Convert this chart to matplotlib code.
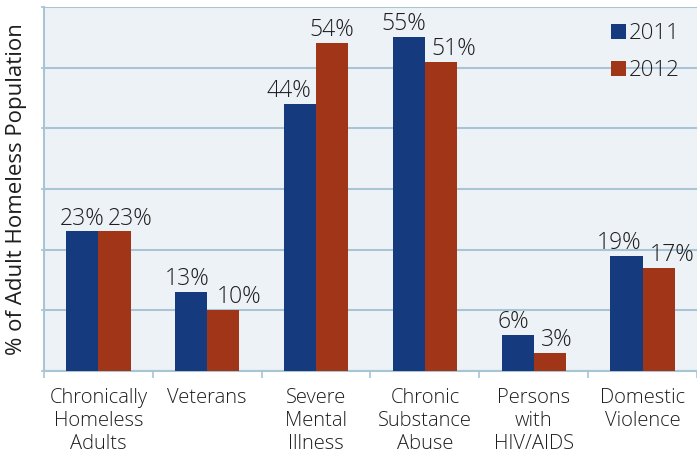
"""
Adult homeless population subgroups, 2011 vs 2012.

Grouped bars with value labels, Excel-style light panel and
horizontal gridlines every 10 percent.
"""

import numpy as np
import matplotlib
matplotlib.use("Agg")
import matplotlib.pyplot as plt


categories = [
    "Chronically\nHomeless\nAdults",
    "Veterans",
    "Severe\nMental\nIllness",
    "Chronic\nSubstance\nAbuse",
    "Persons\nwith\nHIV/AIDS",
    "Domestic\nViolence",
]
values_2011 = [23, 13, 44, 55, 6, 19]
values_2012 = [23, 10, 54, 51, 3, 17]
series_names = ["2011", "2012"]

BLUE = "#163A7E"
RED = "#A13517"
PANEL = "#EDF2F7"
GRID = "#A9C4D4"
TEXT = "#1e1e1e"

BAR_W = 0.295
# label nudges in points (x) so neighbouring labels do not collide
nudge_2011 = [0, -3, -8, -4, -3, -5]
nudge_2012 = [11, 11.5, 0, 9, 5, 10]

plt.rcParams["font.family"] = ["Open Sans", "DejaVu Sans"]
plt.rcParams["font.weight"] = "light"

fig = plt.figure(figsize=(6.97, 4.55), dpi=100)
ax = fig.add_axes([0.0631, 0.1846, 0.9369, 0.80])
ax.set_facecolor(PANEL)

x = np.arange(len(categories))
b1 = ax.bar(x - BAR_W / 2, values_2011, BAR_W, color=BLUE, label=series_names[0], zorder=3)
b2 = ax.bar(x + BAR_W / 2, values_2012, BAR_W, color=RED, label=series_names[1], zorder=3)

for bars, vals, nudges in ((b1, values_2011, nudge_2011), (b2, values_2012, nudge_2012)):
    for rect, v, dx in zip(bars, vals, nudges):
        ax.annotate(f"{v}%", (rect.get_x() + rect.get_width() / 2, v),
                    xytext=(dx, 5), textcoords="offset points",
                    ha="center", va="baseline", fontsize=16.5, color=TEXT)

ax.set_ylim(0, 60)
ax.set_xlim(-0.5, 5.48)
ax.set_yticks(np.arange(0, 61, 10))
ax.set_yticklabels([])
ax.yaxis.grid(True, color=GRID, linewidth=1.5, zorder=0)
ax.tick_params(axis="y", length=2, color=GRID, width=1.2)

ax.set_xticks(x)
ax.set_xticklabels(categories, fontsize=14.5, linespacing=1.22, color=TEXT)
ax.set_xticks(np.arange(-0.5, len(categories), 1.0), minor=True)
ax.tick_params(axis="x", which="major", length=0, pad=12)
ax.tick_params(axis="x", which="minor", length=5, color=GRID, width=1.2)

for side in ("top", "right"):
    ax.spines[side].set_visible(False)
for side in ("left", "bottom"):
    ax.spines[side].set_color(GRID)
    ax.spines[side].set_linewidth(1.5)

ax.set_ylabel("% of Adult Homeless Population", fontsize=16, color=TEXT)
ax.yaxis.set_label_coords(-0.026, 0.5)

leg = ax.legend(loc="upper left", bbox_to_anchor=(0.868, 0.955), frameon=False,
                fontsize=16, handlelength=0.68, handleheight=0.68,
                handletextpad=0.12, labelspacing=0.7, borderaxespad=0,
                borderpad=0)
for t in leg.get_texts():
    t.set_color(TEXT)

fig.savefig("out.png", dpi=100)
